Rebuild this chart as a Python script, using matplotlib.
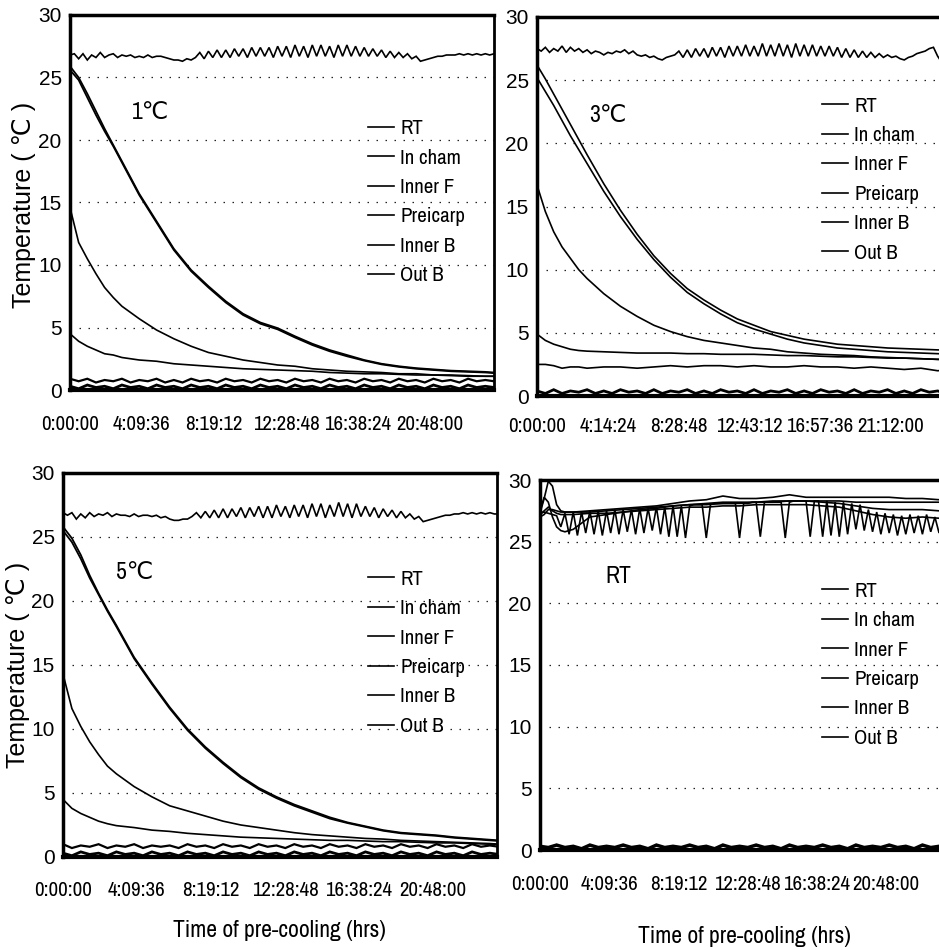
import numpy as np
import matplotlib
matplotlib.use('Agg')
import matplotlib.pyplot as plt
from matplotlib.lines import Line2D

NARROW = ['Liberation Sans Narrow', 'Arial Narrow', 'Archivo Narrow', 'Roboto Condensed',
          'PT Sans Narrow', 'Liberation Sans', 'DejaVu Sans']
REG = ['Liberation Sans', 'DejaVu Sans']
plt.rcParams['font.family'] = REG

series_names = ["RT", "In cham", "Inner F", "Preicarp", "Inner B", "Out B"]

# ---------------- time grids (hours) ----------------
t_curve_L = [0, 0.5, 1, 1.5, 2, 2.5, 3, 4, 5, 6, 7, 8, 9, 10, 11, 12, 13, 14, 15,
             16, 17, 18, 19, 20, 21, 22, 23, 24, 24.5]
t_curve_R = [0, 0.5, 1, 1.5, 2, 2.5, 3, 4, 5, 6, 7, 8, 9, 10, 11, 12, 13, 14, 15,
             16, 17, 18, 19, 20, 21, 22, 23, 24, 25, 25.5]
t_rtp = [0, 0.25, 0.5, 0.75, 1, 1.25, 1.5, 2, 3, 4, 5, 6, 7, 8, 9, 10, 11, 12, 13,
         14, 15, 16, 17, 18, 19, 20, 21, 22, 23, 24, 25, 25.5]
t_fine_L = np.arange(0, 24.51, 0.25)
t_fine_R = np.arange(0, 25.51, 0.25)
t_half_L = np.arange(0, 24.51, 0.5)
t_half_R = np.arange(0, 25.51, 0.5)

ticks_L = [0, 4.16, 8.32, 12.48, 16.64, 20.8]
labels_L = ["0:00:00", "4:09:36", "8:19:12", "12:28:48", "16:38:24", "20:48:00"]
ticks_3 = [0, 4.24, 8.48, 12.72, 16.96, 21.2]
labels_3 = ["0:00:00", "4:14:24", "8:28:48", "12:43:12", "16:57:36", "21:12:00"]

# ---------------- 1 C ----------------
rt_1 = [26.8, 26.9, 26.5, 26.9, 26.4, 26.8, 26.6, 27.0, 26.6, 26.8, 26.9, 26.6, 26.8,
        26.7, 26.8, 26.6, 26.7, 26.6, 26.8, 26.6, 26.7, 26.7, 26.6, 26.5, 26.4, 26.4,
        26.3, 26.5, 26.4, 26.6, 27.0, 26.5, 27.1, 26.6, 27.2, 26.6, 27.2, 26.6, 27.3,
        26.7, 27.3, 26.6, 27.4, 26.7, 27.4, 26.7, 27.4, 26.6, 27.5, 26.7, 27.5, 26.6,
        27.6, 26.7, 27.5, 26.6, 27.6, 26.7, 27.6, 26.7, 27.5, 26.6, 27.6, 26.7, 27.6,
        26.7, 27.5, 26.7, 27.4, 26.7, 27.3, 26.7, 27.2, 26.6, 27.1, 26.6, 27.0, 26.6,
        26.9, 26.5, 26.7, 26.3, 26.4, 26.5, 26.6, 26.7, 26.7, 26.8, 26.8, 26.8, 26.9,
        26.8, 26.9, 26.8, 26.9, 26.8, 26.9, 26.8, 26.9]
a_1 = [25.9, 25.0, 23.7, 22.3, 20.9, 19.6, 18.3, 15.7, 13.5, 11.3, 9.6, 8.3, 7.1, 6.1,
       5.4, 4.95, 4.3, 3.7, 3.2, 2.8, 2.4, 2.1, 1.9, 1.75, 1.65, 1.55, 1.5, 1.45, 1.4]
b_1 = [25.6, 24.8, 23.4, 22.0, 20.7, 19.5, 18.2, 15.6, 13.4, 11.2, 9.5, 8.2, 7.0, 6.0,
       5.3, 4.85, 4.2, 3.6, 3.1, 2.7, 2.35, 2.05, 1.85, 1.7, 1.6, 1.5, 1.45, 1.4, 1.35]
c_1 = [14.6, 11.8, 10.5, 9.3, 8.2, 7.4, 6.7, 5.7, 4.8, 4.1, 3.5, 3.0, 2.7, 2.4, 2.2,
       2.0, 1.9, 1.7, 1.6, 1.5, 1.45, 1.4, 1.3, 1.3, 1.2, 1.2, 1.15, 1.1, 1.1]
d_1 = [4.5, 3.9, 3.5, 3.2, 2.9, 2.8, 2.6, 2.4, 2.3, 2.1, 2.0, 1.9, 1.8, 1.7, 1.65,
       1.6, 1.55, 1.5, 1.4, 1.35, 1.3, 1.3, 1.25, 1.2, 1.2, 1.15, 1.1, 1.1, 1.1]
e_1 = [0.9, 0.7, 0.9, 0.6, 0.8, 0.7, 0.9, 0.6, 0.8, 0.7, 0.9, 0.6, 0.8, 0.6, 0.9, 0.7,
       0.8, 0.6, 0.9, 0.7, 0.8, 0.6, 0.9, 0.7, 0.8, 0.6, 0.9, 0.7, 0.8, 0.6, 0.9, 0.7,
       0.8, 0.6, 0.9, 0.7, 0.8, 0.6, 0.9, 0.7, 0.8, 0.6, 0.9, 0.7, 0.8, 0.6, 0.9, 0.7,
       0.8, 0.7]
f_1 = [0.3, 0.1, 0.4, 0.2, 0.3, 0.1, 0.4, 0.2, 0.3, 0.1, 0.4, 0.2, 0.3, 0.1, 0.4, 0.2,
       0.3, 0.1, 0.4, 0.2, 0.3, 0.1, 0.4, 0.2, 0.3, 0.1, 0.4, 0.2, 0.3, 0.1, 0.4, 0.2,
       0.3, 0.1, 0.4, 0.2, 0.3, 0.1, 0.4, 0.2, 0.3, 0.1, 0.4, 0.2, 0.3, 0.1, 0.4, 0.2,
       0.3, 0.2]

# ---------------- 3 C ----------------
rt_3 = [27.5, 27.3, 27.6, 27.2, 27.5, 27.3, 27.7, 27.2, 27.6, 27.3, 27.5, 27.2, 27.4,
        27.1, 27.3, 27.2, 27.0, 27.2, 27.1, 27.3, 27.2, 27.4, 27.1, 27.3, 27.0, 26.9,
        27.0, 26.8, 26.9, 26.7, 26.6, 26.8, 26.9, 27.0, 27.3, 26.8, 27.4, 26.8, 27.5,
        26.9, 27.5, 26.8, 27.6, 26.9, 27.6, 26.8, 27.7, 26.9, 27.7, 26.9, 27.8, 26.9,
        27.7, 26.9, 27.9, 26.9, 27.8, 26.9, 27.9, 26.9, 27.8, 26.8, 27.9, 26.9, 27.8,
        26.9, 27.8, 26.9, 27.7, 26.9, 27.7, 26.9, 27.6, 26.8, 27.5, 26.8, 27.4, 26.8,
        27.3, 26.8, 27.2, 26.8, 27.1, 26.8, 27.0, 26.8, 26.9, 26.7, 26.6, 26.8, 26.9,
        27.1, 27.2, 27.3, 27.5, 27.6, 26.9, 26.4, 26.3, 26.3, 26.2, 26.2, 26.2]
a_3 = [26.2, 25.1, 23.9, 22.7, 21.5, 20.3, 19.1, 16.8, 14.7, 12.8, 11.1, 9.7, 8.5, 7.6,
       6.8, 6.1, 5.6, 5.1, 4.8, 4.5, 4.3, 4.1, 4.0, 3.9, 3.8, 3.75, 3.7, 3.65, 3.6, 3.6]
b_3 = [25.2, 24.1, 23.0, 21.8, 20.6, 19.5, 18.4, 16.2, 14.2, 12.4, 10.8, 9.4, 8.2, 7.3,
       6.5, 5.8, 5.3, 4.9, 4.5, 4.2, 4.0, 3.8, 3.7, 3.6, 3.5, 3.45, 3.4, 3.35, 3.3, 3.3]
c_3 = [16.7, 14.6, 13.0, 11.8, 10.9, 10.0, 9.3, 8.1, 7.1, 6.3, 5.6, 5.1, 4.7, 4.4, 4.2,
       4.0, 3.8, 3.7, 3.5, 3.4, 3.3, 3.25, 3.2, 3.1, 3.05, 3.0, 2.95, 2.9, 2.85, 2.85]
d_3 = [4.9, 4.4, 4.1, 3.9, 3.7, 3.6, 3.55, 3.5, 3.45, 3.4, 3.4, 3.4, 3.35, 3.35, 3.3,
       3.3, 3.3, 3.25, 3.2, 3.2, 3.15, 3.1, 3.1, 3.05, 3.0, 3.0, 2.95, 2.9, 2.9, 2.9]
e_3 = [2.5, 2.5, 2.4, 2.2, 2.3, 2.3, 2.2, 2.3, 2.3, 2.2, 2.3, 2.4, 2.3, 2.4, 2.4, 2.3,
       2.4, 2.3, 2.3, 2.4, 2.3, 2.3, 2.2, 2.3, 2.2, 2.1, 2.2, 2.0, 2.1, 2.0]
f_3 = [0.4, 0.2, 0.5, 0.2, 0.4, 0.3, 0.5, 0.2, 0.4, 0.2, 0.5, 0.3, 0.4, 0.2, 0.5, 0.2,
       0.4, 0.3, 0.5, 0.2, 0.4, 0.2, 0.5, 0.3, 0.4, 0.2, 0.5, 0.2, 0.4, 0.3, 0.5, 0.2,
       0.4, 0.2, 0.5, 0.3, 0.4, 0.2, 0.5, 0.2, 0.4, 0.3, 0.5, 0.2, 0.4, 0.2, 0.5, 0.3,
       0.4, 0.2, 0.5, 0.3]

# ---------------- 5 C ----------------
rt_5 = [26.9, 26.7, 26.9, 26.4, 26.8, 26.5, 26.9, 26.6, 26.8, 26.7, 26.9, 26.6, 26.8,
        26.7, 26.7, 26.6, 26.8, 26.6, 26.7, 26.7, 26.6, 26.7, 26.5, 26.6, 26.4, 26.3,
        26.3, 26.4, 26.4, 26.6, 26.9, 26.5, 27.0, 26.5, 27.1, 26.5, 27.2, 26.5, 27.2,
        26.6, 27.3, 26.5, 27.3, 26.6, 27.4, 26.5, 27.4, 26.5, 27.5, 26.6, 27.4, 26.5,
        27.5, 26.6, 27.5, 26.5, 27.6, 26.6, 27.6, 26.5, 27.5, 26.6, 27.7, 26.6, 27.6,
        26.5, 27.6, 26.6, 27.4, 26.6, 27.3, 26.5, 27.2, 26.6, 27.1, 26.5, 27.0, 26.5,
        26.8, 26.4, 26.6, 26.2, 26.3, 26.4, 26.5, 26.6, 26.7, 26.7, 26.8, 26.8, 26.9,
        26.8, 26.9, 26.8, 26.9, 26.8, 26.9, 26.8, 26.8]
a_5 = [25.8, 24.9, 23.6, 22.0, 20.6, 19.3, 18.1, 15.6, 13.6, 11.7, 10.0, 8.6, 7.4, 6.3,
       5.4, 4.7, 4.1, 3.6, 3.1, 2.7, 2.4, 2.1, 1.9, 1.8, 1.7, 1.55, 1.45, 1.35, 1.3]
b_5 = [25.5, 24.6, 23.3, 21.8, 20.5, 19.2, 18.0, 15.5, 13.5, 11.6, 9.9, 8.5, 7.3, 6.2,
       5.3, 4.6, 4.0, 3.5, 3.0, 2.65, 2.35, 2.05, 1.85, 1.75, 1.65, 1.5, 1.4, 1.3, 1.25]
c_5 = [14.3, 11.6, 10.2, 9.0, 8.0, 7.1, 6.5, 5.5, 4.7, 4.0, 3.6, 3.2, 2.8, 2.5, 2.3,
       2.1, 1.9, 1.75, 1.65, 1.55, 1.45, 1.4, 1.3, 1.25, 1.2, 1.15, 1.1, 1.05, 1.0]
d_5 = [4.5, 3.8, 3.4, 3.1, 2.8, 2.6, 2.45, 2.3, 2.1, 2.0, 1.85, 1.75, 1.65, 1.55, 1.5,
       1.45, 1.4, 1.35, 1.3, 1.3, 1.25, 1.2, 1.2, 1.15, 1.1, 1.1, 1.05, 1.0, 1.0]
e_5 = [1.0, 0.7, 0.9, 0.8, 1.0, 0.7, 0.9, 0.8, 1.0, 0.7, 0.9, 0.8, 0.9, 0.7, 1.0, 0.8,
       0.9, 0.7, 1.0, 0.8, 0.9, 0.7, 1.0, 0.8, 0.9, 0.7, 1.0, 0.8, 0.9, 0.7, 1.0, 0.8,
       0.9, 0.7, 1.0, 0.8, 0.9, 0.7, 1.0, 0.8, 0.9, 0.7, 1.0, 0.8, 0.9, 0.7, 1.0, 0.8,
       0.9, 0.8]
f_5 = [0.3, 0.1, 0.4, 0.2, 0.3, 0.1, 0.4, 0.2, 0.3, 0.1, 0.4, 0.2, 0.3, 0.1, 0.4, 0.2,
       0.3, 0.1, 0.4, 0.2, 0.3, 0.1, 0.4, 0.2, 0.3, 0.1, 0.4, 0.2, 0.3, 0.1, 0.4, 0.2,
       0.3, 0.1, 0.4, 0.2, 0.3, 0.1, 0.4, 0.2, 0.3, 0.1, 0.4, 0.2, 0.3, 0.1, 0.4, 0.2,
       0.3, 0.2]

# ---------------- RT ----------------
s1_rt = [27.3, 28.5, 29.9, 29.5, 28.0, 27.5, 27.4, 27.4, 27.5, 27.6, 27.7, 27.8, 27.9,
         28.1, 28.3, 28.4, 28.7, 28.5, 28.5, 28.6, 28.8, 28.6, 28.6, 28.6, 28.6, 28.6,
         28.6, 28.5, 28.5, 28.4, 28.4, 28.4]
s2_rt = [27.0, 27.2, 27.6, 27.6, 27.5, 27.4, 27.4, 27.4, 27.4, 27.5, 27.6, 27.7, 27.8,
         27.9, 28.0, 28.1, 28.2, 28.2, 28.2, 28.3, 28.3, 28.3, 28.3, 28.3, 28.2, 28.2,
         28.2, 28.2, 28.2, 28.2, 28.2, 28.2]
s3_rt = [27.5, 28.6, 28.2, 27.0, 26.2, 25.9, 25.8, 26.0, 27.0, 27.2, 27.4, 27.6, 27.7,
         27.9, 28.0, 28.0, 28.1, 28.1, 28.2, 28.2, 28.3, 28.3, 28.2, 28.1, 27.9, 27.7,
         27.6, 27.6, 27.6, 27.5, 27.5, 27.5]
s4_rt = [27.3, 27.4, 27.3, 27.2, 27.1, 26.2, 27.3, 25.6, 27.4, 25.5, 27.4, 25.7, 27.5,
         25.6, 27.5, 25.5, 27.5, 25.7, 27.6, 25.6, 27.6, 25.8, 27.6, 25.6, 27.7, 25.7,
         27.7, 25.9, 27.8, 25.6, 27.8, 25.4, 27.9, 25.4, 27.9, 25.3, 27.9, 28.0, 28.0,
         28.0, 25.3, 28.0, 28.1, 28.1, 28.1, 28.1, 28.1, 28.1, 25.3, 28.1, 28.1, 28.2,
         28.2, 25.4, 28.2, 28.2, 28.2, 28.2, 28.2, 25.3, 28.2, 28.3, 28.3, 28.3, 28.3,
         25.4, 28.3, 28.3, 25.4, 28.3, 25.5, 28.2, 25.4, 28.2, 25.6, 28.1, 26.0, 28.0,
         25.9, 27.6, 25.8, 27.4, 25.6, 27.3, 25.7, 27.2, 25.5, 27.1, 25.6, 27.2, 25.7,
         27.1, 25.6, 27.2, 25.8, 27.0, 25.7, 27.1, 25.8, 27.0, 25.9, 27.1, 26.0]
s5_rt = [27.2, 27.5, 27.8, 27.5, 27.3, 27.2, 27.2, 27.2, 27.3, 27.3, 27.4, 27.5, 27.6,
         27.7, 27.8, 27.8, 27.9, 27.9, 28.0, 28.0, 28.0, 28.0, 27.9, 27.8, 27.5, 27.2,
         27.0, 26.9, 27.0, 26.9, 27.0, 27.0]
s6_rt = [0.3, 0.2, 0.4, 0.2, 0.3, 0.1, 0.4, 0.2, 0.3, 0.2, 0.4, 0.2, 0.3, 0.1, 0.4, 0.2,
         0.3, 0.2, 0.4, 0.2, 0.3, 0.1, 0.4, 0.2, 0.3, 0.2, 0.4, 0.2, 0.3, 0.1, 0.4, 0.2,
         0.3, 0.2, 0.4, 0.2, 0.3, 0.1, 0.4, 0.2, 0.3, 0.2, 0.4, 0.2, 0.3, 0.1, 0.4, 0.2,
         0.3, 0.2, 0.4, 0.2]

fig = plt.figure(figsize=(9.39, 9.5), dpi=100)

panels = [
    dict(pos=[70/939, 1-390/950, 424/939, 375/950], xmax=24.5, ticks=ticks_L, labels=labels_L,
         lines=[(t_fine_L, rt_1, 1.2), (t_half_L, e_1, 1.6), (t_curve_L, a_1, 1.3),
                (t_curve_L, b_1, 1.3), (t_curve_L, c_1, 1.2), (t_curve_L, d_1, 1.2),
                (t_half_L, f_1, 2.0)],
         title="1℃", tpos=(0.19, 0.74), leg=(0.703, 0.722), xpad=18,
         ylab=(-0.080, 0.493), xlab=None),
    dict(pos=[537/939, 1-396/950, 424/939, 379/950], xmax=25.4, ticks=ticks_3, labels=labels_3,
         lines=[(t_fine_R, rt_3, 1.2), (t_half_R, f_3, 2.0), (t_curve_R, a_3, 1.2),
                (t_curve_R, b_3, 1.2), (t_curve_R, c_3, 1.2), (t_curve_R, d_3, 1.2),
                (t_curve_R, e_3, 1.2)],
         title="3℃", tpos=(0.167, 0.741), leg=(0.672, 0.790), xpad=15,
         ylab=None, xlab=None),
    dict(pos=[63/939, 1-857/950, 434/939, 384/950], xmax=24.4, ticks=ticks_L, labels=labels_L,
         lines=[(t_fine_L, rt_5, 1.2), (t_half_L, e_5, 1.6), (t_curve_L, a_5, 1.3),
                (t_curve_L, b_5, 1.3), (t_curve_L, c_5, 1.2), (t_curve_L, d_5, 1.2),
                (t_half_L, f_5, 2.0)],
         title="5℃", tpos=(0.166, 0.74), leg=(0.703, 0.748), xpad=17,
         ylab=(-0.075, 0.5), xlab=(0.498, -0.163)),
    dict(pos=[540/939, 1-850/950, 424/939, 370/950], xmax=25.5, ticks=ticks_L, labels=labels_L,
         lines=[(t_rtp, s1_rt, 1.2), (t_half_R, s6_rt, 2.5), (t_rtp, s2_rt, 1.2),
                (t_rtp, s3_rt, 1.2), (t_fine_R, s4_rt, 1.2), (t_rtp, s5_rt, 1.2)],
         title="RT", tpos=(0.184, 0.738), leg=(0.665, 0.725), xpad=18,
         ylab=None, xlab=(0.483, -0.205)),
]

for p in panels:
    ax = fig.add_axes(p['pos'])
    for t, v, lw in p['lines']:
        ax.plot(t, v, color='black', lw=lw, solid_joinstyle='miter')
    ax.set_xlim(0, p['xmax'])
    ax.set_ylim(0, 30)
    ax.set_yticks([0, 5, 10, 15, 20, 25, 30])
    ax.set_yticklabels(['0', '5', '10', '15', '20', '25', '30'], fontsize=15, family=REG)
    ax.set_xticks(p['ticks'])
    ax.set_xticklabels(p['labels'], fontsize=15, family=NARROW)
    ax.tick_params(axis='x', length=0, pad=p['xpad'])
    ax.tick_params(axis='y', length=0, pad=6)
    for y in [5, 10, 15, 20, 25]:
        ax.axhline(y, color='#222222', lw=0.9, ls=(0, (1.2, 6)), zorder=0)
    ax.spines['left'].set_linewidth(2.5)
    ax.spines['bottom'].set_linewidth(3)
    ax.spines['top'].set_linewidth(2.5)
    ax.spines['right'].set_linewidth(2)
    ax.text(p['tpos'][0], p['tpos'][1], p['title'], transform=ax.transAxes,
            fontsize=17, family=NARROW, ha='center', va='center')
    handles = [Line2D([0], [0], color='black', lw=1.2) for _ in series_names]
    ax.legend(handles, series_names, loc='upper left', bbox_to_anchor=p['leg'],
              frameon=False, borderpad=0, borderaxespad=0, handlelength=1.25,
              handletextpad=0.3, labelspacing=0.5,
              prop={'family': NARROW, 'size': 15})
    if p['ylab'] is not None:
        ax.set_ylabel("Temperature ( ℃ )", fontsize=18, family=REG)
        ax.yaxis.set_label_coords(*p['ylab'])
    if p['xlab'] is not None:
        ax.set_xlabel("Time of pre-cooling (hrs)", fontsize=17, family=NARROW)
        ax.xaxis.set_label_coords(*p['xlab'])

fig.savefig('out.png', dpi=100)
